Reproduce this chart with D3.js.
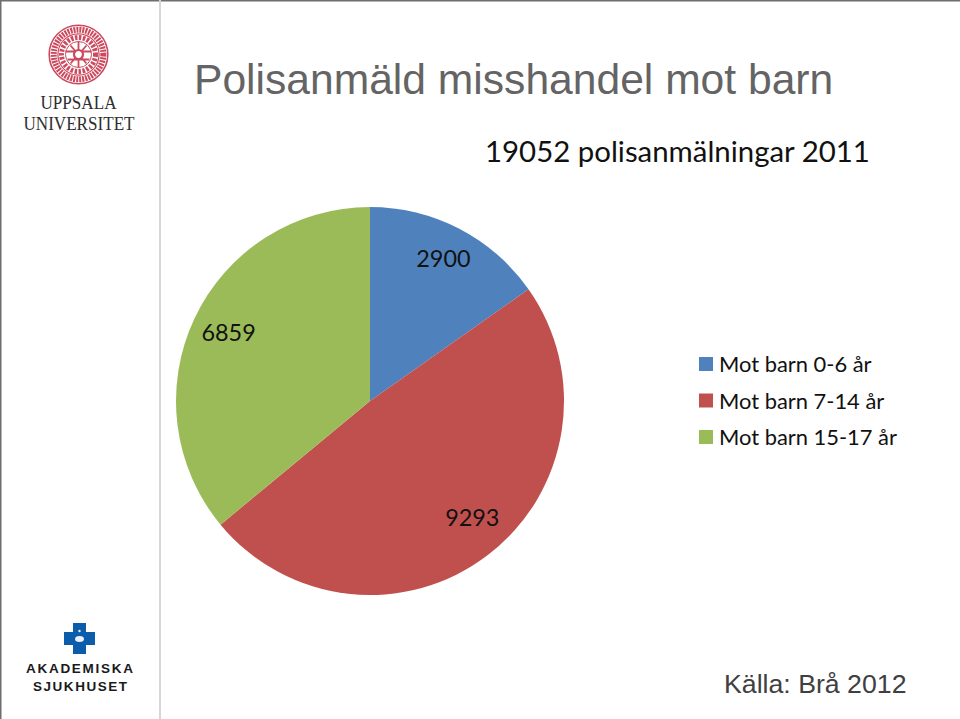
<!DOCTYPE html>
<html><head><meta charset="utf-8">
<script src="https://cdn.jsdelivr.net/npm/d3@7"></script>
<style>html,body{margin:0;padding:0;background:#fff;overflow:hidden}svg{display:block}</style></head>
<body><svg id="c" width="960" height="719"></svg>
<script>
const categories = ["Mot barn 0-6 år","Mot barn 7-14 år","Mot barn 15-17 år"];
const values = [2900,9293,6859];
const colors = ["#4f81bd","#c0504d","#9bbb59"];
const titleText = "Polisanmäld misshandel mot barn";
const subtitleText = "19052 polisanmälningar 2011";
const sourceText = "Källa: Brå 2012";

const svg = d3.select("#c");
// slide frame
svg.append("rect").attr("x",0).attr("y",0).attr("width",960).attr("height",1.5).attr("fill","#6e6e6e");
svg.append("rect").attr("x",0).attr("y",0).attr("width",1.5).attr("height",719).attr("fill","#6e6e6e");
svg.append("rect").attr("x",159).attr("y",0).attr("width",2).attr("height",719).attr("fill","#d6d6d6");

const serif = "'Liberation Serif',serif", sans="'Liberation Sans',Arial,sans-serif", cal="Lato,'Open Sans',sans-serif";
svg.append("text").attr("x",194).attr("y",94).attr("font-family",sans).attr("font-size",42.6).attr("fill","#646464").text(titleText);
svg.append("text").attr("x",485).attr("y",162).attr("font-family",cal).attr("font-size",29.4).attr("fill","#111").text(subtitleText);
svg.append("text").attr("x",724).attr("y",693).attr("font-family",sans).attr("font-size",26.7).attr("fill","#404040").text(sourceText);

// pie
const cx=370, cy=401, R=194;
const pie=d3.pie().sort(null)(values);
const arc=d3.arc().innerRadius(0).outerRadius(R);
const g=svg.append("g").attr("transform",`translate(${cx},${cy})`);
g.selectAll("path").data(pie).join("path").attr("d",arc).attr("fill",(d,i)=>colors[i]);
const labelNudge=[[2,-5],[8,-7],[-1,-3]];
const labelArc=d3.arc();
g.selectAll("text").data(pie).join("text")
  .attr("transform",(d,i)=>{
    const r=R*0.8;
    const c=labelArc.centroid({innerRadius:r,outerRadius:r,startAngle:d.startAngle,endAngle:d.endAngle});
    return `translate(${c[0]+labelNudge[i][0]},${c[1]+labelNudge[i][1]})`;})
  .attr("text-anchor","middle").attr("dominant-baseline","central")
  .attr("font-family",cal).attr("font-size",23.4).attr("fill","#111")
  .text(d=>d.value);

// legend
const ly=d3.scalePoint().domain(categories).range([364,437]);
const lg=svg.append("g").selectAll("g").data(categories).join("g").attr("transform",d=>`translate(699,${ly(d)})`);
lg.append("rect").attr("x",0).attr("y",-7).attr("width",14).attr("height",14).attr("fill",(d,i)=>colors[i]);
lg.append("text").attr("x",20).attr("y",8).attr("font-family",cal).attr("font-size",21.9).attr("fill","#111").text(d=>d);

// Uppsala seal
const seal=svg.append("g").attr("transform","translate(78.5,54.5)").attr("fill","none").attr("stroke","#cc4a5e");
seal.append("circle").attr("r",29.3).attr("stroke-width",1.6);
seal.append("circle").attr("r",24.8).attr("stroke-width",6).attr("stroke-dasharray","2 1");
seal.append("circle").attr("r",20.6).attr("stroke-width",1.2);
seal.append("circle").attr("r",17).attr("stroke-width",5).attr("stroke-dasharray","2.5 1.5");
seal.append("circle").attr("r",13).attr("stroke-width",1);
seal.append("path").attr("d","M-13,-3H13M-11,5H11M0,-13V13M-8,-9L8,9M8,-9L-8,9").attr("stroke-width",1.8);
seal.append("circle").attr("r",4.5).attr("stroke-width",2.2).attr("fill","#fff");
svg.append("text").attr("x",78.5).attr("y",109).attr("text-anchor","middle").attr("font-family",serif).attr("font-size",19).attr("fill","#2e2e2e").attr("textLength",76).attr("lengthAdjust","spacingAndGlyphs").text("UPPSALA");
svg.append("text").attr("x",79).attr("y",130).attr("text-anchor","middle").attr("font-family",serif).attr("font-size",19).attr("fill","#2e2e2e").attr("textLength",111).attr("lengthAdjust","spacingAndGlyphs").text("UNIVERSITET");

// Akademiska cross
const cr=svg.append("g").attr("fill","#0b5cab");
cr.append("rect").attr("x",73).attr("y",623).attr("width",13).attr("height",31);
cr.append("rect").attr("x",64).attr("y",632).attr("width",31).attr("height",13);
svg.append("ellipse").attr("cx",79.5).attr("cy",639).attr("rx",4.5).attr("ry",3).attr("fill","#e8f0f8");
svg.append("circle").attr("cx",79.5).attr("cy",631).attr("r",1.2).attr("fill","#e8f0f8");
svg.append("text").attr("x",79.5).attr("y",673).attr("text-anchor","middle").attr("font-family",sans).attr("font-weight",700).attr("font-size",13.5).attr("fill","#1a1a1a").attr("textLength",107).text("AKADEMISKA");
svg.append("text").attr("x",80).attr("y",691).attr("text-anchor","middle").attr("font-family",sans).attr("font-weight",700).attr("font-size",13.5).attr("fill","#1a1a1a").attr("textLength",94).text("SJUKHUSET");
</script></body></html>
